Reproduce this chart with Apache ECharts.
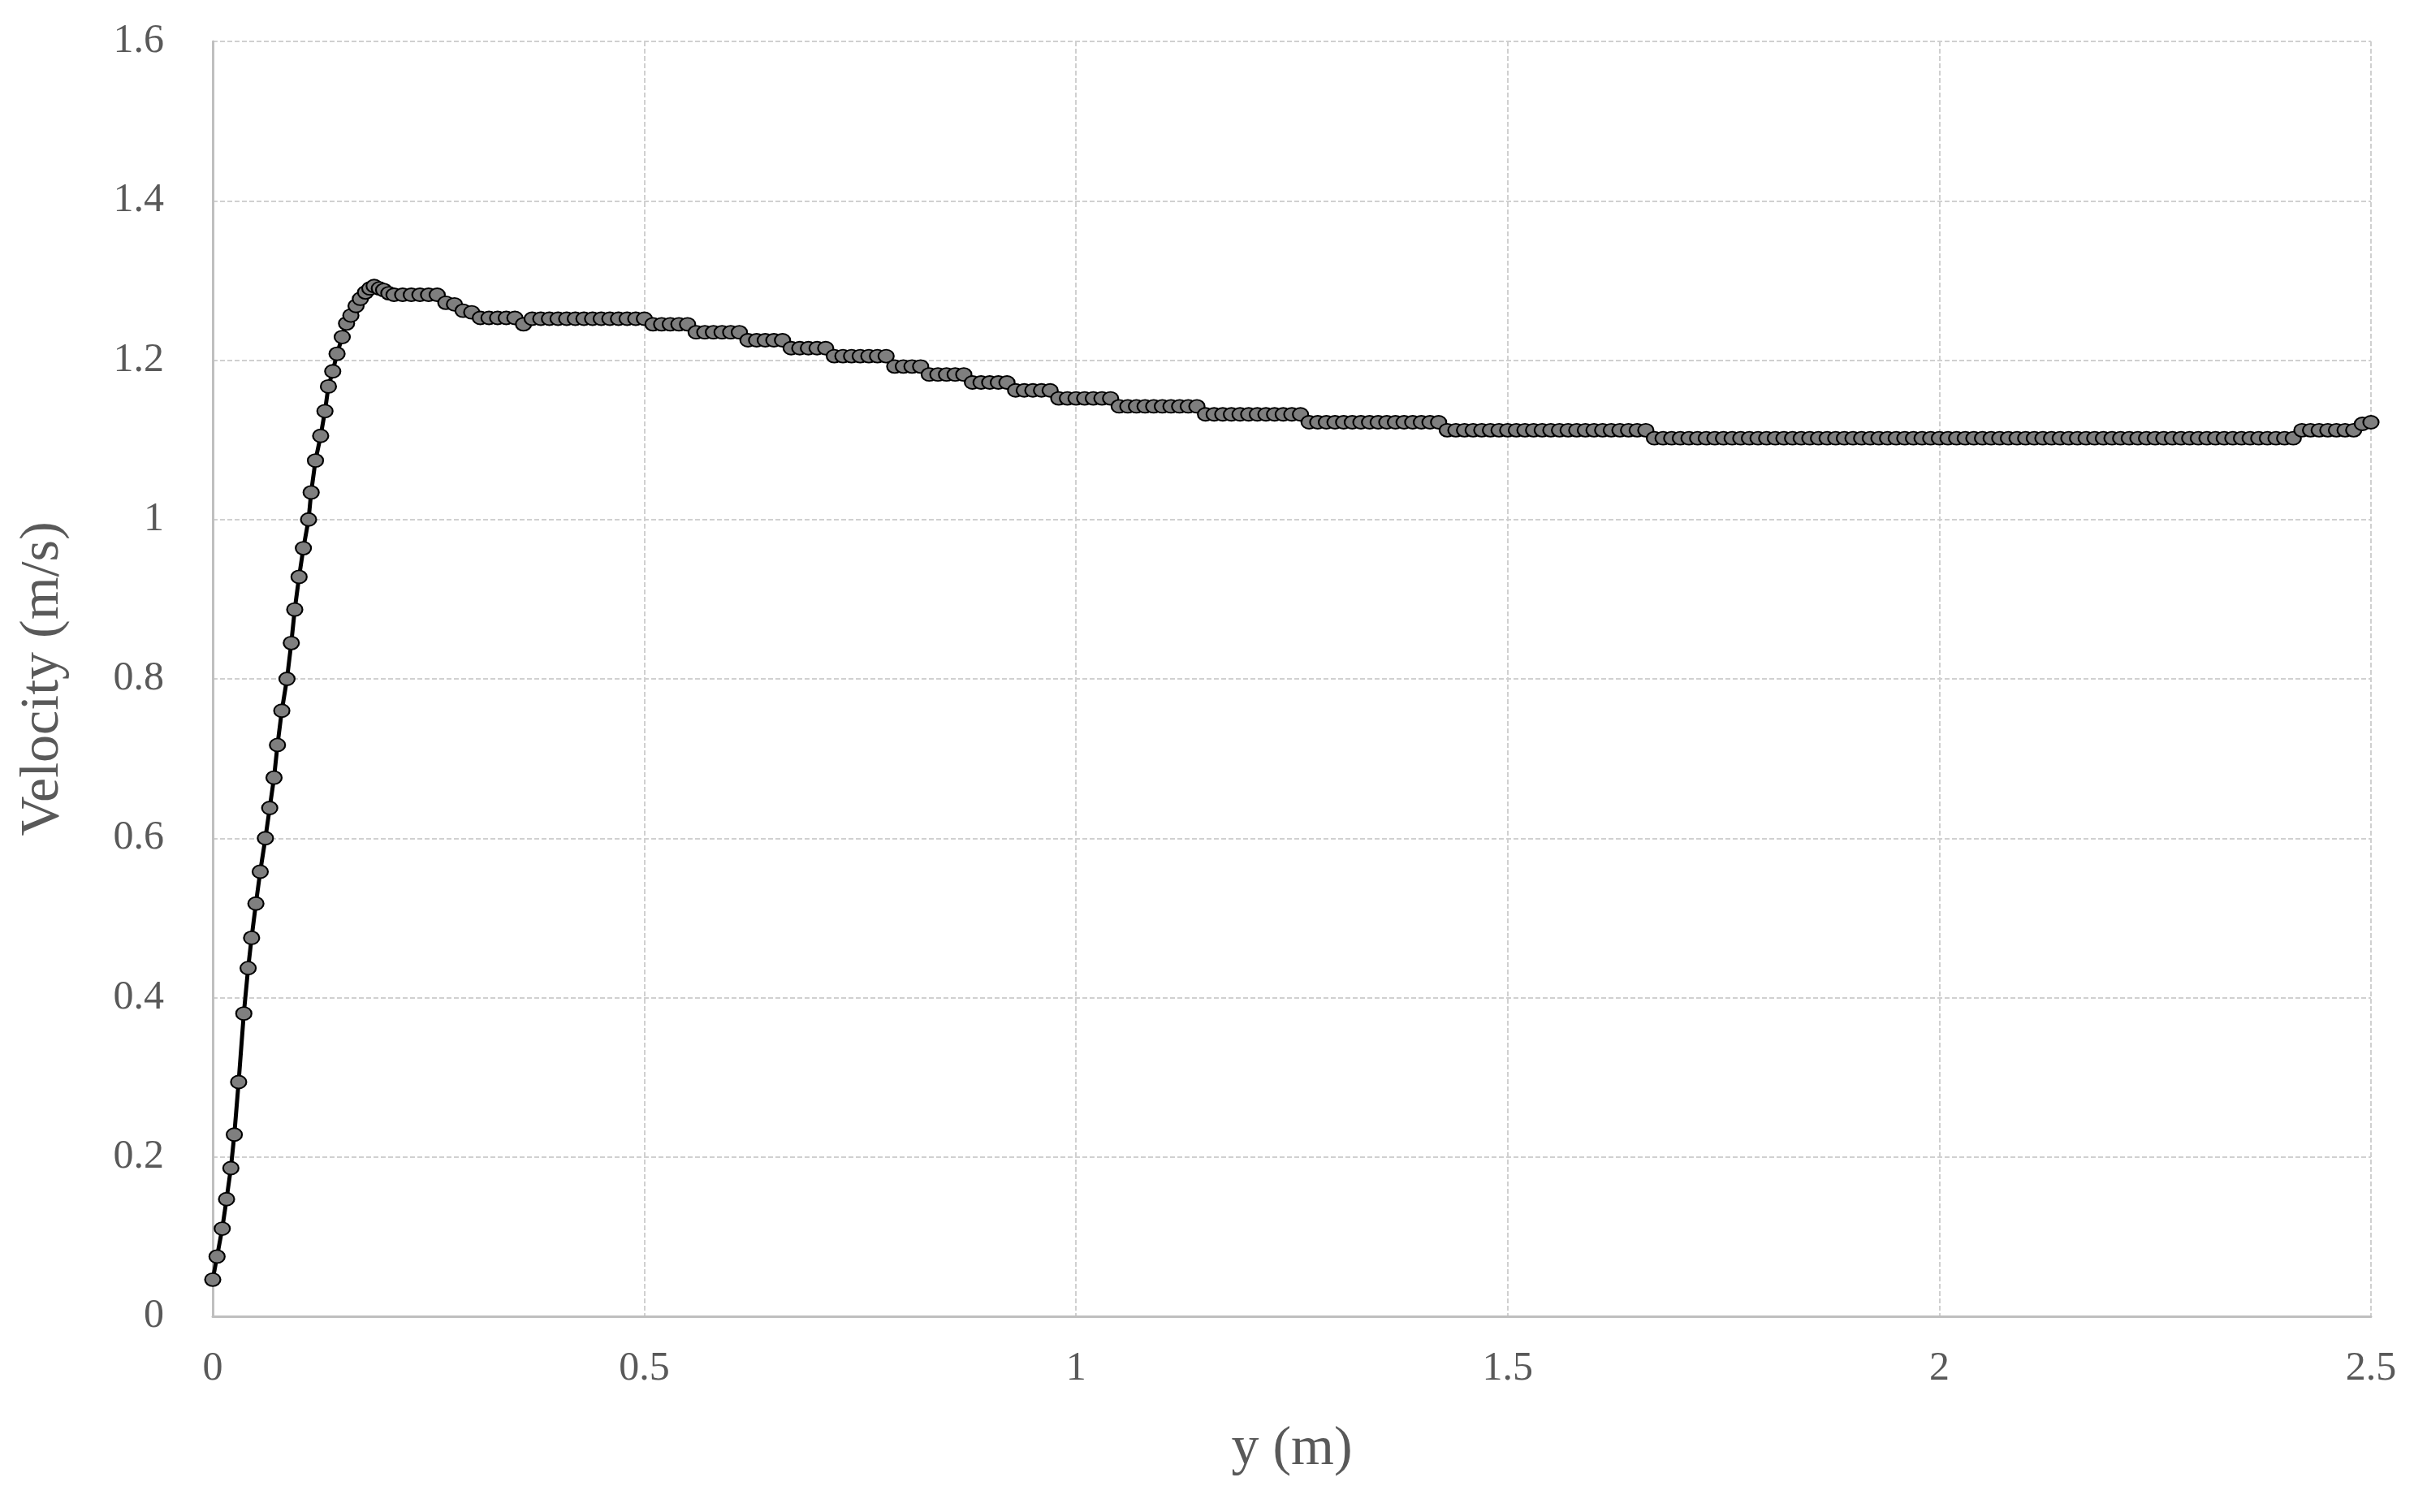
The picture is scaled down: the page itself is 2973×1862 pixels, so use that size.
<!DOCTYPE html>
<html><head><meta charset="utf-8">
<script src="https://cdn.jsdelivr.net/npm/echarts@6/dist/echarts.min.js"></script>
<style>html,body{margin:0;padding:0;background:#fff}#c{width:2973px;height:1862px}</style>
</head><body><div id="c"></div>
<script>
const riseX = [0,0.005,0.011,0.016,0.021,0.025,0.030,0.036,0.041,0.045,0.050,0.055,0.061,0.066,0.071,0.075,0.080,0.086,0.091,0.095,0.100,0.105,0.111,0.114,0.119,0.125,0.130,0.134,0.139,0.144,0.150,0.155,0.160,0.166,0.171,0.177,0.182,0.187,0.193,0.198,0.204];
const riseY = [0.046,0.075,0.11,0.147,0.186,0.228,0.294,0.38,0.437,0.475,0.518,0.558,0.6,0.638,0.676,0.717,0.76,0.8,0.845,0.887,0.928,0.964,1.0,1.034,1.074,1.105,1.136,1.167,1.186,1.208,1.229,1.246,1.256,1.268,1.277,1.285,1.29,1.293,1.29,1.288,1.284];
const plateauStart = 0.21, plateauStep = 0.01;
const plateauY = [
1.282,1.282,1.282,1.282,1.282,1.282,1.272,1.27,1.262,1.26,
1.253,1.253,1.253,1.253,1.253,1.245,1.252,1.252,1.252,1.252,
1.252,1.252,1.252,1.252,1.252,1.252,1.252,1.252,1.252,1.252,
1.245,1.245,1.245,1.245,1.245,1.235,1.235,1.235,1.235,1.235,
1.235,1.225,1.225,1.225,1.225,1.225,1.215,1.215,1.215,1.215,
1.215,1.205,1.205,1.205,1.205,1.205,1.205,1.205,1.192,1.192,
1.192,1.192,1.182,1.182,1.182,1.182,1.182,1.172,1.172,1.172,
1.172,1.172,1.162,1.162,1.162,1.162,1.162,1.152,1.152,1.152,
1.152,1.152,1.152,1.152,1.142,1.142,1.142,1.142,1.142,1.142,
1.142,1.142,1.142,1.142,1.132,1.132,1.132,1.132,1.132,1.132,
1.132,1.132,1.132,1.132,1.132,1.132,1.122,1.122,1.122,1.122,
1.122,1.122,1.122,1.122,1.122,1.122,1.122,1.122,1.122,1.122,
1.122,1.122,1.112,1.112,1.112,1.112,1.112,1.112,1.112,1.112,
1.112,1.112,1.112,1.112,1.112,1.112,1.112,1.112,1.112,1.112,
1.112,1.112,1.112,1.112,1.112,1.112,1.102,1.102,1.102,1.102,
1.102,1.102,1.102,1.102,1.102,1.102,1.102,1.102,1.102,1.102,
1.102,1.102,1.102,1.102,1.102,1.102,1.102,1.102,1.102,1.102,
1.102,1.102,1.102,1.102,1.102,1.102,1.102,1.102,1.102,1.102,
1.102,1.102,1.102,1.102,1.102,1.102,1.102,1.102,1.102,1.102,
1.102,1.102,1.102,1.102,1.102,1.102,1.102,1.102,1.102,1.102,
1.102,1.102,1.102,1.102,1.102,1.102,1.102,1.102,1.102,1.102,
1.102,1.102,1.102,1.102,1.102,1.102,1.102,1.102,1.102,1.102,
1.102,1.112,1.112,1.112,1.112,1.112,1.112,1.112,1.12,1.122
];
const data = riseX.map((x,i)=>[x,riseY[i]]);
plateauY.forEach((y,i)=>data.push([Math.round((plateauStart+i*plateauStep)*1000)/1000,y]));

const font = 'Liberation Serif';
const chart = echarts.init(document.getElementById('c'));
chart.setOption({
  animation:false,
  backgroundColor:'#fff',
  grid:{left:262,right:53,top:51,bottom:241},
  xAxis:{type:'value',min:0,max:2.5,interval:0.5,
    name:'y (m)',nameLocation:'middle',nameGap:130,
    nameTextStyle:{fontFamily:font,fontSize:68,color:'#595959'},
    axisLabel:{fontFamily:font,fontSize:50,color:'#595959',margin:40},
    axisLine:{lineStyle:{color:'#bfbfbf',width:3}},axisTick:{show:false},
    splitLine:{show:true,lineStyle:{color:'#d0d0d0',width:2,type:[6,3]}}},
  yAxis:{type:'value',min:0,max:1.6,interval:0.2,
    name:'Velocity (m/s)',nameLocation:'middle',nameGap:175,
    nameTextStyle:{fontFamily:font,fontSize:68,color:'#595959'},
    axisLabel:{fontFamily:font,fontSize:50,color:'#595959',margin:60},
    axisLine:{show:true,lineStyle:{color:'#bfbfbf',width:3}},axisTick:{show:false},
    splitLine:{show:true,lineStyle:{color:'#d0d0d0',width:2,type:[6,3]}}},
  series:[{type:'line',data:data,symbol:'circle',symbolSize:[19,16],
    lineStyle:{color:'#000',width:5},
    itemStyle:{color:'#7f7f7f',borderColor:'#000',borderWidth:2}}]
});
</script></body></html>
